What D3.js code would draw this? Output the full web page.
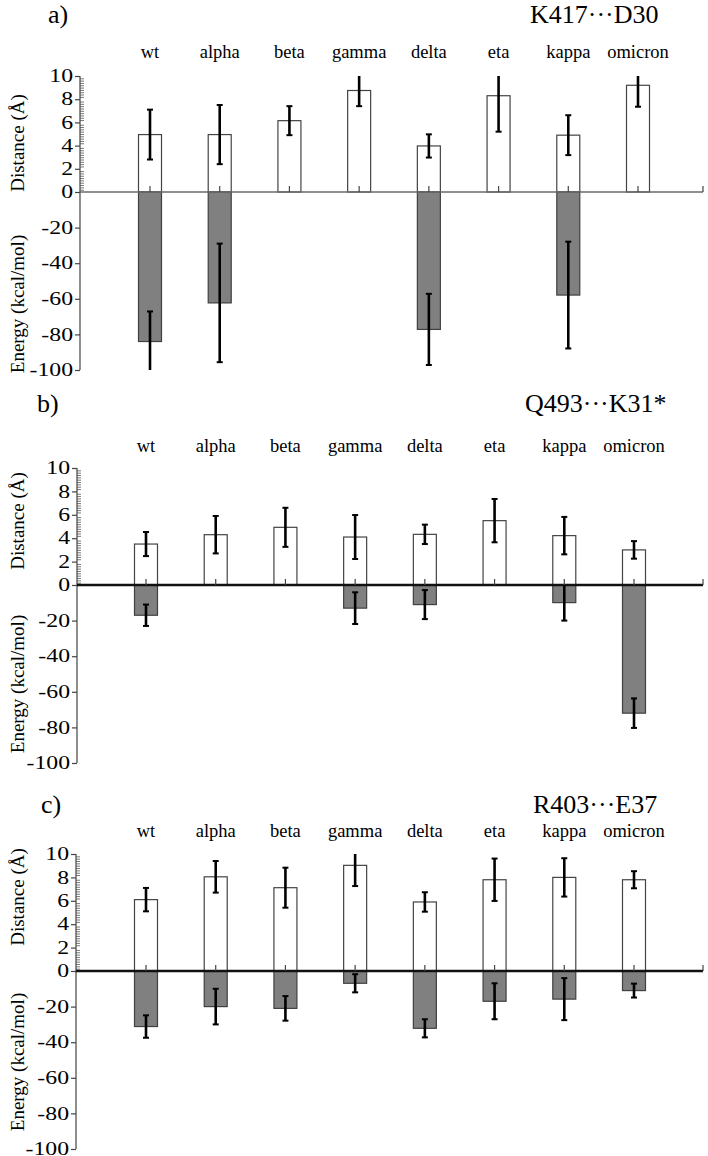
<!DOCTYPE html>
<html><head><meta charset="utf-8">
<script src="https://cdn.jsdelivr.net/npm/d3@7"></script>
<style>
html,body{margin:0;padding:0;background:#fff;}
svg text{font-family:"Liberation Serif","Times New Roman","DejaVu Serif",serif;}
</style></head>
<body><svg id="chart" width="708" height="1156"></svg>
<script>
const categories = ["wt","alpha","beta","gamma","delta","eta","kappa","omicron"];
const distTicks = [0,2,4,6,8,10];
const energyTicks = [-20,-40,-60,-80,-100];

// Panel a: K417···D30
const distA      = [4.95, 4.95, 6.15, 8.75, 3.97, 8.3, 4.9, 9.2];
const distErrA   = [2.15, 2.55, 1.25, 1.35, 1.0, 3.1, 1.72, 1.85];
const energyA    = [-84, -62.3, null, null, -77.2, null, -57.9, null];
const energyErrA = [16.9, 33.3, null, null, 20, null, 30, null];

// Panel b: Q493···K31*
const distB      = [3.5, 4.3, 4.93, 4.1, 4.33, 5.5, 4.22, 3.0];
const distErrB   = [1.03, 1.6, 1.67, 1.88, 0.83, 1.85, 1.6, 0.75];
const energyB    = [-17, null, null, -13, -11, null, -9.9, -72];
const energyErrB = [6, null, null, 8.9, 8.15, null, 10.1, 8.3];

// Panel c: R403···E37
const distC      = [6.1, 8.05, 7.12, 9.03, 5.9, 7.8, 8.0, 7.8];
const distErrC   = [1.0, 1.35, 1.71, 1.77, 0.83, 1.81, 1.64, 0.73];
const energyC    = [-31.2, -20, -21, -6.9, -32.2, -17, -15.8, -11];
const energyErrC = [6.3, 10, 6.9, 5.1, 5.1, 10.1, 11.8, 3.9];

const FONT = '"Liberation Serif","Times New Roman","DejaVu Serif",serif';

const panels = [
  {letter:"a)", title:"K417\u00B7\u00B7\u00B7D30", dist:distA, dErr:distErrA, en:energyA, eErr:energyErrA,
   axisX:80, c0:150, c1:638, xEnd:703, y10:76, y0:192, yMin:370, letterX:48, titleX:530, titleY:23, labelY:58,
   zeroColor:"#6a6a6a", zeroW:1.5, distMid:143, enMid:304},
  {letter:"b)", title:"Q493\u00B7\u00B7\u00B7K31*", dist:distB, dErr:distErrB, en:energyB, eErr:energyErrB,
   axisX:77, c0:146, c1:634, xEnd:703, y10:468, y0:585, yMin:763, letterX:37, titleX:525, titleY:412, labelY:452,
   zeroColor:"#111", zeroW:2.5, distMid:521, enMid:684},
  {letter:"c)", title:"R403\u00B7\u00B7\u00B7E37", dist:distC, dErr:distErrC, en:energyC, eErr:energyErrC,
   axisX:76, c0:146, c1:634, xEnd:703, y10:854, y0:971, yMin:1149, letterX:41, titleX:533, titleY:813, labelY:837,
   zeroColor:"#111", zeroW:2.5, distMid:897, enMid:1062}
];

const svg = d3.select("#chart");
const barW = 23, capW = 5, tickScaleX = 1.25;

panels.forEach(p => {
  const g = svg.append("g");
  const x = d3.scalePoint().domain(categories).range([p.c0, p.c1]);
  const yD = d3.scaleLinear().domain([0,10]).range([p.y0, p.y10]).clamp(true);
  const yE = d3.scaleLinear().domain([-100,0]).range([p.yMin, p.y0]).clamp(true);

  // titles
  g.append("text").attr("x", p.letterX).attr("y", p.titleY).attr("font-family",FONT).attr("font-size", 26).text(p.letter);
  g.append("text").attr("x", p.titleX).attr("y", p.titleY).attr("font-family",FONT).attr("font-size", 26).text(p.title);

  // category labels
  g.selectAll("text.cat").data(categories).join("text")
    .attr("class","cat").attr("x", d => x(d)).attr("y", p.labelY)
    .attr("text-anchor","middle").attr("font-family",FONT).attr("font-size", 18.5).text(d => d);

  // axis titles
  g.append("text").attr("transform", `translate(24,${p.distMid}) rotate(-90)`)
    .attr("text-anchor","middle").attr("font-family",FONT).attr("font-size", 19).text("Distance (\u00C5)");
  g.append("text").attr("transform", `translate(24,${p.enMid}) rotate(-90)`)
    .attr("text-anchor","middle").attr("font-family",FONT).attr("font-size", 19).text("Energy (kcal/mol)");

  // distance bars
  const dData = categories.map((c,i) => ({c, v:p.dist[i], e:p.dErr[i]}));
  g.selectAll("rect.d").data(dData).join("rect").attr("class","d")
    .attr("x", d => x(d.c) - barW/2).attr("width", barW)
    .attr("y", d => yD(d.v)).attr("height", d => yD(0) - yD(d.v))
    .attr("fill","#fff").attr("stroke","#444").attr("stroke-width",1.2);

  // energy bars
  const eData = categories.map((c,i) => ({c, v:p.en[i], e:p.eErr[i]})).filter(d => d.v !== null);
  g.selectAll("rect.e").data(eData).join("rect").attr("class","e")
    .attr("x", d => x(d.c) - barW/2).attr("width", barW)
    .attr("y", yE(0)).attr("height", d => yE(d.v) - yE(0))
    .attr("fill","#808080").attr("stroke","#404040").attr("stroke-width",1.2);

  // y axis: distance part
  const fmt = d => String(d);
  const axD = d3.axisLeft(yD).tickValues(distTicks).tickSize(5).tickFormat(fmt);
  const gD = g.append("g").attr("transform", `translate(${p.axisX},0)`).call(axD);
  const minorVals = d3.range(0, 10.001, 0.2).map(v => +v.toFixed(1)).filter(v => !distTicks.includes(v));
  g.append("g").attr("transform", `translate(${p.axisX},0)`)
    .call(d3.axisRight(yD).tickValues(minorVals).tickSize(4).tickFormat(""))
    .call(s => s.select(".domain").remove())
    .call(s => s.selectAll("line").attr("stroke","#555").attr("stroke-width",0.8));
  // energy part
  const axE = d3.axisLeft(yE).tickValues(energyTicks).tickSize(5).tickFormat(fmt);
  const gE = g.append("g").attr("transform", `translate(${p.axisX},0)`).call(axE);
  [gD, gE].forEach(s => {
    s.attr("font-family", FONT).attr("font-size", 19);
    s.select(".domain").remove();
    s.selectAll(".tick line").attr("stroke","#444").attr("stroke-width",1.2);
    s.selectAll(".tick text").attr("font-family",FONT).attr("font-size",19).attr("fill","#000")
      .attr("x", -7 / tickScaleX).attr("dy","0.3em").attr("transform", `scale(${tickScaleX},1)`);
  });
  g.append("line").attr("x1",p.axisX).attr("x2",p.axisX).attr("y1",yD(10)).attr("y2",yE(-100))
    .attr("stroke","#444").attr("stroke-width",1.2);

  // zero line
  g.append("line").attr("x1",p.axisX).attr("x2",p.xEnd).attr("y1",p.y0).attr("y2",p.y0)
    .attr("stroke",p.zeroColor).attr("stroke-width",p.zeroW);
  // category ticks (upward)
  g.selectAll("line.ct").data(categories).join("line").attr("class","ct")
    .attr("x1", d => x(d)).attr("x2", d => x(d)).attr("y1", p.y0).attr("y2", p.y0 - 6)
    .attr("stroke","#444").attr("stroke-width",1.2);
  g.append("line").attr("x1",p.xEnd).attr("x2",p.xEnd).attr("y1",p.y0).attr("y2",p.y0-6)
    .attr("stroke","#444").attr("stroke-width",1.2);

  // error bars
  function errBars(data, y, cls) {
    const eg = g.selectAll("g."+cls).data(data).join("g").attr("class",cls);
    eg.append("line").attr("x1", d => x(d.c)).attr("x2", d => x(d.c))
      .attr("y1", d => y(d.v + d.e)).attr("y2", d => y(d.v - d.e))
      .attr("stroke","#000").attr("stroke-width",2.6);
    [1,-1].forEach(s => {
      eg.append("line").attr("x1", d => x(d.c) - capW/2 - 0.5).attr("x2", d => x(d.c) + capW/2 + 0.5)
        .attr("y1", d => y(d.v + s*d.e)).attr("y2", d => y(d.v + s*d.e))
        .attr("stroke","#000").attr("stroke-width",2)
        .attr("display", d => {
          const raw = d.v + s*d.e;
          const dom = y.domain();
          return (raw > dom[1] || raw < dom[0]) ? "none" : null;
        });
    });
  }
  errBars(dData, yD, "ed");
  errBars(eData, yE, "ee");
});
</script></body></html>
